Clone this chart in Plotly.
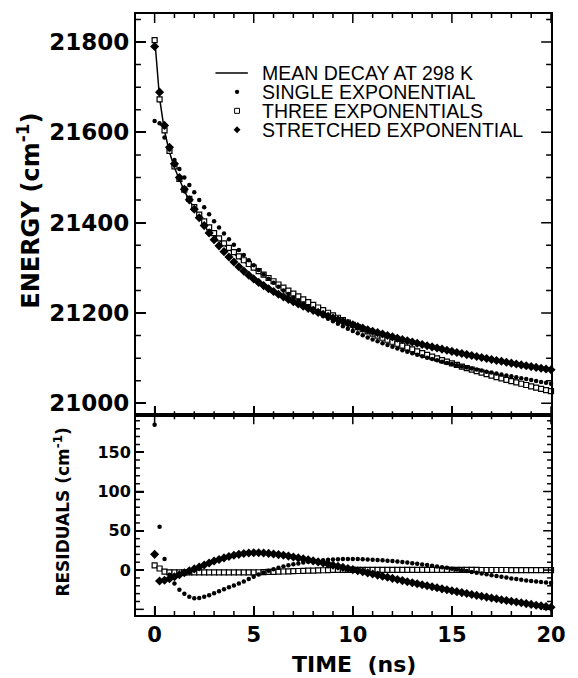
import plotly.graph_objects as go

# ---------------- data ----------------
time_ns = [
    0.0, 0.25, 0.5, 0.75, 1.0, 1.25, 1.5, 1.75, 2.0, 2.25, 2.5, 2.75,
    3.0, 3.25, 3.5, 3.75, 4.0, 4.25, 4.5, 4.75, 5.0, 5.25, 5.5, 5.75,
    6.0, 6.25, 6.5, 6.75, 7.0, 7.25, 7.5, 7.75, 8.0, 8.25, 8.5, 8.75,
    9.0, 9.25, 9.5, 9.75, 10.0, 10.25, 10.5, 10.75, 11.0, 11.25, 11.5, 11.75,
    12.0, 12.25, 12.5, 12.75, 13.0, 13.25, 13.5, 13.75, 14.0, 14.25, 14.5, 14.75,
    15.0, 15.25, 15.5, 15.75, 16.0, 16.25, 16.5, 16.75, 17.0, 17.25, 17.5, 17.75,
    18.0, 18.25, 18.5, 18.75, 19.0, 19.25, 19.5, 19.75, 20.0,
]

# mean decay at 298 K (cm^-1)
energy_mean = [
    21810.0, 21675.0, 21602.4, 21556.0,
    21521.7, 21493.8, 21470.3, 21449.5,
    21431.3, 21414.9, 21400.0, 21386.4,
    21373.8, 21362.2, 21351.4, 21341.2,
    21331.7, 21322.6, 21313.8, 21305.5,
    21297.5, 21289.8, 21282.4, 21275.1,
    21268.1, 21261.2, 21254.6, 21248.1,
    21241.7, 21235.5, 21229.4, 21223.3,
    21217.6, 21211.8, 21206.2, 21200.6,
    21195.2, 21189.8, 21184.6, 21179.3,
    21174.3, 21169.2, 21164.4, 21159.5,
    21154.8, 21150.2, 21145.6, 21141.1,
    21136.7, 21132.3, 21128.0, 21123.8,
    21119.7, 21115.6, 21111.6, 21107.6,
    21103.7, 21099.9, 21096.1, 21092.4,
    21088.7, 21085.2, 21081.6, 21078.1,
    21074.8, 21071.4, 21068.1, 21064.8,
    21061.6, 21058.4, 21055.4, 21052.3,
    21049.3, 21046.4, 21043.4, 21040.6,
    21037.7, 21034.9, 21032.2, 21029.5,
    21026.9,
]

# residuals (data - fit), cm^-1
resid_single = [
    185, 55, 14, -6,
    -17, -25, -30, -34,
    -36, -35.5, -34, -32,
    -29.5, -27, -24.5, -22,
    -19.5, -17, -14.5, -11.5,
    -8.5, -5.5, -3, -1,
    1, 3, 4.5, 6,
    7.5, 8.5, 9.5, 10.5,
    11.3, 12, 12.6, 13.1,
    13.5, 13.8, 14, 14.1,
    14.1, 14, 13.8, 13.5,
    13.2, 12.8, 12.4, 11.9,
    11.4, 10.8, 10.2, 9.5,
    8.8, 8.0, 7.2, 6.4,
    5.5, 4.6, 3.7, 2.8,
    1.8, 0.8, -0.2, -1.2,
    -2.3, -3.3, -4.4, -5.4,
    -6.5, -7.5, -8.6, -9.6,
    -10.6, -11.5, -12.4, -13.2,
    -14.0, -14.7, -15.3, -15.9,
    -16.5,
]

resid_three = [
    6, 2, -2, -3,
    -3, -3, -3, -3,
    -3, -3, -3, -3,
    -3, -3, -3, -3,
    -3, -3, -3, -3,
    -3, -2.8, -2.6, -2.4,
    -2.2, -2.0, -1.8, -1.6,
    -1.4, -1.2, -1.0, -0.8,
    -0.6, -0.4, -0.2, 0.0,
    0.2, 0.3, 0.3, 0.3,
    0.3, 0.3, 0.3, 0.3,
    0.3, 0.3, 0.3, 0.3,
    0.3, 0.3, 0.3, 0.3,
    0.3, 0.3, 0.3, 0.3,
    0.3, 0.3, 0.3, 0.2,
    0.2, 0.2, 0.2, 0.2,
    0.2, 0.2, 0.1, 0.1,
    0.1, 0.1, 0.1, 0.1,
    0.0, 0.0, 0.0, 0.0,
    0.0, 0.0, 0.0, 0.0,
    0.0,
]

resid_stretched = [
    20, -14, -13, -11,
    -8.5, -6, -3.5, -1,
    1.5, 4, 6.5, 9,
    11.5, 13.5, 15.5, 17.2,
    18.8, 20, 21, 21.7,
    22, 22, 21.7, 21.2,
    20.5, 19.7, 18.8, 17.8,
    16.7, 15.5, 14.3, 13.0,
    11.7, 10.4, 9.0, 7.6,
    6.2, 4.8, 3.4, 2.0,
    0.6, -0.8, -2.2, -3.6,
    -5.0, -6.4, -7.8, -9.2,
    -10.6, -12.0, -13.4, -14.8,
    -16.1, -17.4, -18.7, -20.0,
    -21.3, -22.6, -23.9, -25.1,
    -26.3, -27.5, -28.7, -29.9,
    -31.1, -32.2, -33.3, -34.4,
    -35.5, -36.6, -37.7, -38.7,
    -39.7, -40.7, -41.7, -42.7,
    -43.7, -44.7, -45.6, -46.5,
    -47.4,
]

legend_labels = ["MEAN DECAY AT 298 K", "SINGLE EXPONENTIAL",
                 "THREE EXPONENTIALS", "STRETCHED EXPONENTIAL"]
resid_tickvals = [0, 50, 100, 150]

# tick positions (axis values)
time_major = [0, 5, 10, 15, 20]
time_minor = [1, 2, 3, 4, 6, 7, 8, 9, 11, 12, 13, 14, 16, 17, 18, 19]
energy_major = [21000, 21200, 21400, 21600, 21800]
energy_minor = [21050, 21100, 21150, 21250, 21300, 21350, 21450, 21500, 21550,
                21650, 21700, 21750, 21850]
resid_major = [-50, 0, 50, 100, 150]
resid_minor = [-40, -30, -20, -10, 10, 20, 30, 40, 60, 70, 80, 90,
               110, 120, 130, 140, 160, 170, 180, 190]

# fitted curves = data - residual
fit_single = [e - r for e, r in zip(energy_mean, resid_single)]
fit_three = [e - r for e, r in zip(energy_mean, resid_three)]
fit_stretched = [e - r for e, r in zip(energy_mean, resid_stretched)]

# ---------------- layout geometry (pixels) ----------------
W, H = 578, 678
L, R, T, B = 136, 559, 13, 615
SPLIT = 415
split_frac = (B - SPLIT) / (B - T)
PW, PH_UP, PH_LO = R - L, SPLIT - T, B - SPLIT

X_RANGE = [-0.94, 20.0]
E_RANGE = [20973.5, 21862.0]
R_RANGE = [-57.2, 197.0]


def px(x):
    return (x - L) / (R - L)


def py(y):
    return (B - y) / (B - T)


BOLD = "DejaVu Sans"
REG = "Liberation Sans, Arial, Helvetica"

fig = go.Figure()

dia = dict(symbol="diamond", size=7, color="black", line=dict(width=0))
dot = dict(symbol="circle", size=4.5, color="black", line=dict(width=0))
sq = dict(symbol="square", size=5, color="white", line=dict(color="black", width=1.2))

# upper panel
fig.add_trace(go.Scatter(x=time_ns, y=energy_mean, mode="lines",
                         line=dict(color="black", width=1.5),
                         xaxis="x2", yaxis="y", cliponaxis=False))
fig.add_trace(go.Scatter(x=time_ns, y=fit_three, mode="markers", marker=sq,
                         xaxis="x2", yaxis="y", cliponaxis=False))
fig.add_trace(go.Scatter(x=time_ns, y=fit_single, mode="markers", marker=dot,
                         xaxis="x2", yaxis="y", cliponaxis=False))
fig.add_trace(go.Scatter(x=time_ns, y=fit_stretched, mode="markers", marker=dia,
                         xaxis="x2", yaxis="y", cliponaxis=False))

# lower panel (residuals)
fig.add_trace(go.Scatter(x=time_ns, y=resid_three, mode="markers", marker=sq,
                         xaxis="x", yaxis="y2", cliponaxis=False))
fig.add_trace(go.Scatter(x=time_ns, y=resid_single, mode="markers", marker=dot,
                         xaxis="x", yaxis="y2", cliponaxis=False))
fig.add_trace(go.Scatter(x=time_ns, y=resid_stretched, mode="markers", marker=dia,
                         xaxis="x", yaxis="y2", cliponaxis=False))


# ---------------- tick marks as line traces through the axes' scales ----------------
def tick_segments(yrange, ph, ymaj, ymin, ylen_maj, ylen_min):
    ux = (X_RANGE[1] - X_RANGE[0]) / PW      # x units per pixel
    uy = (yrange[1] - yrange[0]) / ph        # y units per pixel
    xs, ys = [], []
    for t in time_major + time_minor:
        ln = 9 if t in time_major else 4
        xs += [t, t, None, t, t, None]
        ys += [yrange[0], yrange[0] + ln * uy, None,
               yrange[1], yrange[1] - ln * uy, None]
    for v in ymaj + ymin:
        ln = ylen_maj if v in ymaj else ylen_min
        xs += [X_RANGE[0], X_RANGE[0] + ln * ux, None,
               X_RANGE[1], X_RANGE[1] - ln * ux, None]
        ys += [v, v, None, v, v, None]
    return xs, ys


tx_up, ty_up = tick_segments(E_RANGE, PH_UP, energy_major, energy_minor, 10, 5)
tx_lo, ty_lo = tick_segments(R_RANGE, PH_LO, resid_major, resid_minor, 8, 4)
fig.add_trace(go.Scatter(x=tx_up, y=ty_up, mode="lines", xaxis="x2", yaxis="y",
                         line=dict(color="black", width=1.5), hoverinfo="skip",
                         cliponaxis=False, connectgaps=False))
fig.add_trace(go.Scatter(x=tx_lo, y=ty_lo, mode="lines", xaxis="x", yaxis="y2",
                         line=dict(color="black", width=1.5), hoverinfo="skip",
                         cliponaxis=False, connectgaps=False))

base = dict(showline=True, linecolor="black", linewidth=2, mirror=True,
            ticks="inside", tickcolor="black", tickwidth=1.5,
            showgrid=False, zeroline=False)

fig.update_layout(
    width=W, height=H,
    margin=dict(l=L, r=W - R, t=T, b=H - B, pad=0),
    paper_bgcolor="white", plot_bgcolor="white",
    showlegend=False,
    xaxis=dict(**base, domain=[0, 1], anchor="y2", range=X_RANGE,
               dtick=5, ticklen=9,
               tickfont=dict(family=BOLD, size=21, color="black", weight="bold")),
    xaxis2=dict(**base, domain=[0, 1], anchor="y", range=X_RANGE,
                dtick=5, ticklen=9, showticklabels=False),
    yaxis=dict(**base, domain=[split_frac, 1], anchor="x2", range=E_RANGE,
               dtick=200, tickformat="d", ticklen=10,
               tickfont=dict(family=BOLD, size=23, color="black", weight="bold")),
    yaxis2=dict(**base, domain=[0, split_frac], anchor="x", range=R_RANGE,
                tickmode="array", tickvals=resid_tickvals, tickformat="d", ticklen=8,
                tickfont=dict(family=BOLD, size=16, color="black", weight="bold")),
)

annotations = [
    dict(text="ENERGY (cm<sup>-1</sup>)", x=px(27), y=py(210), textangle=-90,
         font=dict(family=BOLD, size=24, color="black", weight="bold")),
    dict(text="RESIDUALS (cm<sup>-1</sup>)", x=px(61), y=py(512), textangle=-90,
         font=dict(family=BOLD, size=17, color="black", weight="bold")),
    dict(text="TIME\u00a0\u00a0(ns)", x=px(358), y=py(665),
         font=dict(family=BOLD, size=22, color="black", weight="bold")),
]
for a in annotations:
    a.update(xref="paper", yref="paper", showarrow=False,
             xanchor="center", yanchor="middle")

legend_rows = [72, 91, 110, 129]
for lab, ry in zip(legend_labels, legend_rows):
    annotations.append(dict(text=lab, x=px(262), y=py(ry), xref="paper", yref="paper",
                            showarrow=False, xanchor="left", yanchor="middle",
                            font=dict(family=REG, size=19.5, color="black")))
fig.update_layout(annotations=annotations)

# legend samples
mx = 239
shapes = [
    dict(type="line", xref="paper", yref="paper", x0=px(217), x1=px(250),
         y0=py(legend_rows[0]), y1=py(legend_rows[0]),
         line=dict(color="black", width=1.5)),
    dict(type="circle", xref="paper", yref="paper",
         x0=px(mx - 2.2), x1=px(mx + 2.2), y0=py(legend_rows[1] + 2.2), y1=py(legend_rows[1] - 2.2),
         fillcolor="black", line=dict(width=0)),
    dict(type="rect", xref="paper", yref="paper",
         x0=px(mx - 2.5), x1=px(mx + 2.5), y0=py(legend_rows[2] + 2.5), y1=py(legend_rows[2] - 2.5),
         fillcolor="white", line=dict(color="black", width=1)),
    dict(type="path", xref="paper", yref="paper",
         path=(f"M {px(mx - 3.5)} {py(legend_rows[3])} L {px(mx)} {py(legend_rows[3] - 3.5)} "
               f"L {px(mx + 3.5)} {py(legend_rows[3])} L {px(mx)} {py(legend_rows[3] + 3.5)} Z"),
         fillcolor="black", line=dict(width=0)),
]
fig.update_layout(shapes=shapes)

fig.write_html("out.html", config={"displayModeBar": False})
